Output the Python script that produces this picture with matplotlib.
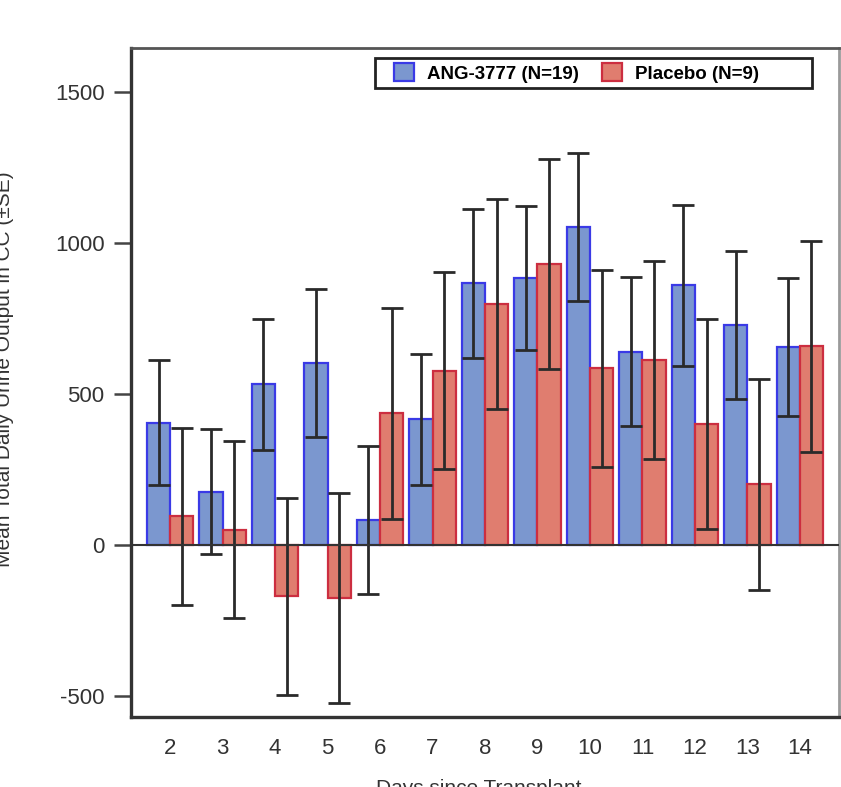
import numpy as np
import matplotlib.pyplot as plt
from matplotlib.patches import Rectangle

# ========= DATA =========
days = [2, 3, 4, 5, 6, 7, 8, 9, 10, 11, 12, 13, 14]
ang_mean = [404, 175, 531, 603, 83, 415, 865, 883, 1052, 639, 859, 727, 655]
ang_se   = [207, 207, 217, 245, 245, 218, 246, 237, 245, 246, 267, 246, 229]
pla_mean = [94, 50, -171, -176, 435, 576, 798, 930, 584, 611, 400, 200, 657]
pla_se   = [293, 292, 327, 348, 350, 327, 348, 348, 327, 327, 348, 349, 349]
series_labels = ["ANG-3777 (N=19)", "Placebo (N=9)"]
y_ticks = [-500, 0, 500, 1000, 1500]

# ========= STYLE =========
BLUE_FILL, BLUE_EDGE = "#7b97cf", "#3a3ae6"
RED_FILL,  RED_EDGE  = "#e07d6f", "#cc2e40"
ERR_CLR = "#2a2a2a"
TXT_CLR = "#333333"

plt.rcParams["font.family"] = ["Liberation Sans", "DejaVu Sans"]
plt.rcParams["axes.unicode_minus"] = False

fig = plt.figure(figsize=(8.41, 7.87), dpi=100)
W, H = 841, 787
ax = fig.add_axes([131 / W, 1 - 717 / H, (839 - 131) / W, (717 - 48) / H])

x = np.array(days, dtype=float)
bw = 0.44
err_kw = dict(ecolor=ERR_CLR, elinewidth=2.0, capsize=8, capthick=2.0)

ax.bar(x - bw / 2, ang_mean, width=bw, color=BLUE_FILL, edgecolor=BLUE_EDGE,
       linewidth=1.6, yerr=ang_se, error_kw=err_kw, zorder=2)
ax.bar(x + bw / 2, pla_mean, width=bw, color=RED_FILL, edgecolor=RED_EDGE,
       linewidth=1.6, yerr=pla_se, error_kw=err_kw, zorder=2)

ax.axhline(0, color="#333333", linewidth=1.5, zorder=3)

ax.set_xlim(1.256, 14.744)
ax.set_ylim(-571, 1645)
ax.set_xticks(days)
ax.set_xticklabels([str(d) for d in days])
ax.set_yticks(y_ticks)
ax.tick_params(axis="x", length=0, pad=15, labelsize=16, colors=TXT_CLR)
ax.tick_params(axis="y", length=12, width=1.8, pad=7, labelsize=16,
               colors="#444444", labelcolor=TXT_CLR)

for side in ["left", "bottom"]:
    ax.spines[side].set_color("#333333")
    ax.spines[side].set_linewidth(2.4)
ax.spines["top"].set_color("#555555")
ax.spines["top"].set_linewidth(2.0)
ax.spines["right"].set_color("#9a9a9a")
ax.spines["right"].set_linewidth(2.0)

# legend: drawn without frame, box added by hand to match reference width
handles = [Rectangle((0, 0), 1, 1, facecolor=BLUE_FILL, edgecolor=BLUE_EDGE, linewidth=1.6),
           Rectangle((0, 0), 1, 1, facecolor=RED_FILL, edgecolor=RED_EDGE, linewidth=1.6)]
ax.legend(handles, series_labels, ncol=2, frameon=False, loc="center left",
          bbox_to_anchor=((386 - 131) / 708, 1 - 25 / 669),
          prop=dict(family=["Liberation Sans", "DejaVu Sans"], weight="bold", size=13.5),
          handlelength=1.1, handleheight=1.1, handletextpad=0.7, columnspacing=1.2,
          borderaxespad=0)
ax.add_patch(Rectangle(((375 - 131) / 708, 1 - 40 / 669), (812 - 375) / 708, 30 / 669,
                       transform=ax.transAxes, fill=False, edgecolor="#222222",
                       linewidth=2.0, zorder=5, clip_on=False))

# axis labels, partly cut off by the figure edge as in the reference
fig.text(5 / W, 1 - 369 / H, "Mean Total Daily Urine Output in CC (\u00b1SE)",
         rotation=90, ha="center", va="center", fontsize=15, color=TXT_CLR)
fig.text(479 / W, 1 - 779 / H, "Days since Transplant",
         ha="center", va="top", fontsize=15, color=TXT_CLR)

plt.savefig("out.png", dpi=100)
